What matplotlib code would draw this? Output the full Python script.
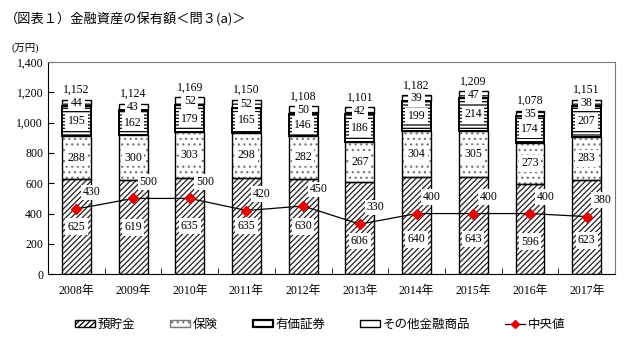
import numpy as np
import matplotlib as mpl
import matplotlib.pyplot as plt
from matplotlib.patches import Patch
from matplotlib.lines import Line2D

years = ['2008年', '2009年', '2010年', '2011年', '2012年',
         '2013年', '2014年', '2015年', '2016年', '2017年']
deposits = [625, 619, 635, 635, 630, 606, 640, 643, 596, 623]
insurance = [288, 300, 303, 298, 282, 267, 304, 305, 273, 283]
securities = [195, 162, 179, 165, 146, 186, 199, 214, 174, 207]
other = [44, 43, 52, 52, 50, 42, 39, 47, 35, 38]
totals = [1152, 1124, 1169, 1150, 1108, 1101, 1182, 1209, 1078, 1151]
median = [430, 500, 500, 420, 450, 330, 400, 400, 400, 380]

serif = ['Liberation Serif', 'Noto Sans CJK JP']
gothic = ['Noto Sans CJK JP', 'DejaVu Sans']
plt.rcParams['font.family'] = serif
plt.rcParams['hatch.linewidth'] = 0.9

fig = plt.figure(figsize=(6.4, 3.51), dpi=100)
ax = fig.add_axes([0.075, 0.219, 0.886, 0.604])

x = np.arange(len(years))
w = 0.51
# (values, hatch, hatch colour, outline width)
layers = [
    (deposits, '//////', '#222222', 1.0),
    (insurance, '...', '#777777', 1.0),
    (securities, '-----', 'black', 1.4),
    (other, '--', 'black', 1.0),
]
bottom = np.zeros(len(years))
for k, (vals, hatch, hc, lw) in enumerate(layers):
    vals = np.array(vals)
    ax.bar(x, vals, w, bottom=bottom, color='white', edgecolor=hc,
           hatch=hatch, linewidth=0, zorder=2)
    ax.bar(x, vals, w, bottom=bottom, fill=False, edgecolor='black',
           linewidth=lw, zorder=3)
    for xi, b, v, m in zip(x, bottom, vals, median):
        ly = b + v / 2
        # deposit label moved down where the median marker would sit on it
        if k == 0 and m <= 400:
            ly = b + v * 0.36
        ax.text(xi, ly, str(v), ha='center', va='center', fontsize=8.5,
                zorder=5,
                bbox=dict(boxstyle='square,pad=0.2', fc='white', ec='none'))
    bottom += vals

for xi, t in zip(x, totals):
    ax.text(xi, t + 25, f'{t:,}', ha='center', va='bottom', fontsize=8.5)

ax.plot(x, median, color='black', linewidth=0.9, marker='D', markersize=5,
        markerfacecolor='#e60000', markeredgecolor='#e60000', zorder=6)
for xi, m in zip(x, median):
    ax.annotate(str(m), (xi, m), xytext=(11, 12), textcoords='offset points',
                ha='center', va='center', fontsize=8.5, zorder=7,
                bbox=dict(boxstyle='square,pad=0.15', fc='white', ec='none'))

ax.set_xlim(-0.5, len(years) - 0.5)
ax.set_ylim(0, 1400)
ax.set_yticks(range(0, 1401, 200))
ax.yaxis.set_major_formatter(mpl.ticker.FuncFormatter(lambda v, p: f'{int(v):,}'))
ax.set_xticks(x)
ax.set_xticklabels(years)
ax.set_xticks(np.arange(-0.5, len(years), 1), minor=True)
ax.tick_params(axis='x', which='major', length=0, labelsize=8.5, pad=8)
ax.tick_params(axis='x', which='minor', direction='in', length=4)
ax.tick_params(axis='y', direction='in', length=4, labelsize=8.5)
for s in ['top', 'right']:
    ax.spines[s].set_color('#777777')

fig.text(0.008, 0.945, '（図表１）金融資産の保有額＜問３(a)＞', family=gothic,
         fontsize=9.5, va='center')
fig.text(0.018, 0.865, '(万円)', fontsize=7.5, va='center')

handles = [
    Patch(facecolor='white', edgecolor='black', hatch='//////'),
    Patch(facecolor='white', edgecolor='#777777', hatch='...'),
    Patch(facecolor='white', edgecolor='black', linewidth=1.6),
    Patch(facecolor='white', edgecolor='black'),
    Line2D([], [], color='black', linewidth=0.9, marker='D', markersize=4,
           markerfacecolor='#e60000', markeredgecolor='#e60000'),
]
labels = ['預貯金', '保険', '有価証券', 'その他金融商品', '中央値']
fig.legend(handles, labels, loc='center', bbox_to_anchor=(0.50, 0.074),
           ncol=5, frameon=False, fontsize=9, handlelength=1.6,
           handleheight=0.5, columnspacing=2.8, handletextpad=0.2)

fig.savefig('out.png', dpi=100)
